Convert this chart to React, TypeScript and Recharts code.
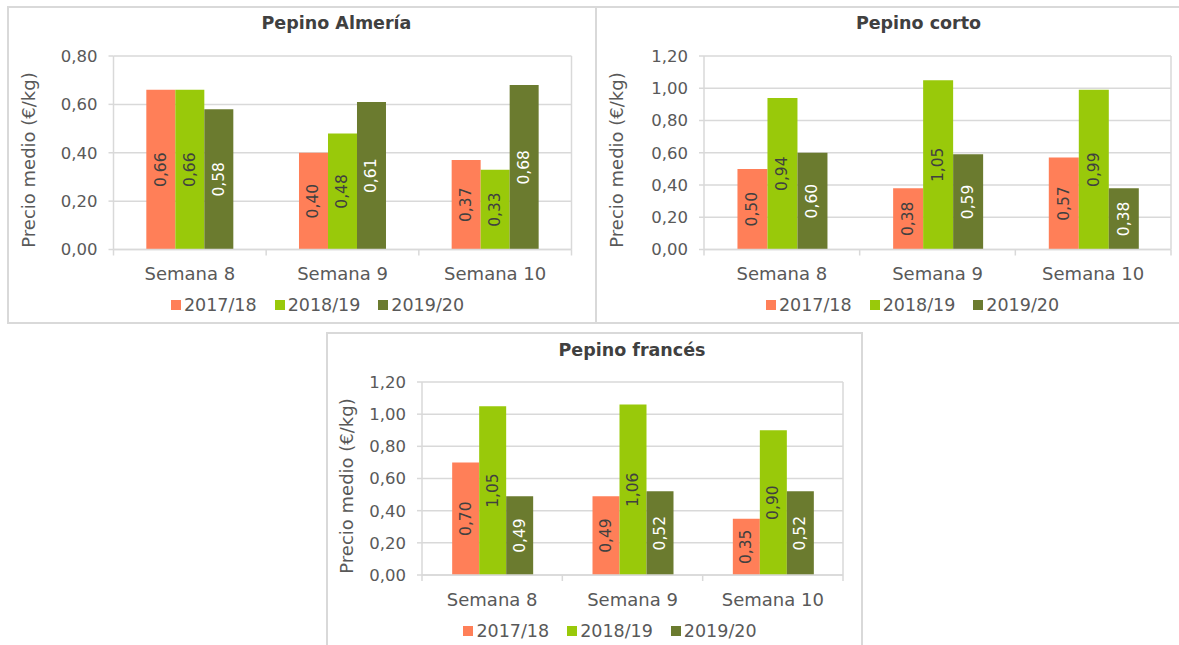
import React from 'react';
import { Bar, BarChart, CartesianGrid, Customized, LabelList, Legend, XAxis, YAxis } from 'recharts';

const categories = ['Semana 8', 'Semana 9', 'Semana 10'];
const seasons = ['2017/18', '2018/19', '2019/20'];
const seasonColors = ['#FF7F58', '#99C90A', '#6B7B2F'];
const labelColors = ['#404040', '#404040', '#FFFFFF'];

const almeria1718 = [0.66, 0.4, 0.37];
const almeria1819 = [0.66, 0.48, 0.33];
const almeria1920 = [0.58, 0.61, 0.68];

const corto1718 = [0.5, 0.38, 0.57];
const corto1819 = [0.94, 1.05, 0.99];
const corto1920 = [0.6, 0.59, 0.38];

const frances1718 = [0.7, 0.49, 0.35];
const frances1819 = [1.05, 1.06, 0.9];
const frances1920 = [0.49, 0.52, 0.52];

const ticksAlmeria = [0, 0.2, 0.4, 0.6, 0.8];
const ticksPrecio = [0, 0.2, 0.4, 0.6, 0.8, 1.0, 1.2];

const yAxisTitle = 'Precio medio (€/kg)';

const GRID = '#D9D9D9';
const TEXT = '#595959';
const FONT = '"DejaVu Sans", sans-serif';

const fmt = (v: number) => v.toFixed(2).replace('.', ',');

function buildRows(a: number[], b: number[], c: number[]) {
  return categories.map((semana, i) => ({ semana, s0: a[i], s1: b[i], s2: c[i] }));
}

type Box = {
  left: number; top: number; width: number; height: number;
  plotLeft: number; plotRight: number; plotTop: number; plotBottom: number;
  titleX: number; titleY: number; axisTitleX: number; axisTitleY: number;
  legendX: number; legendY: number;
};

function CategoryTick(props: any) {
  const { x, y, payload, index, visibleTicksCount, band } = props;
  const half = band / 2;
  return (
    <g>
      <line x1={x - half} y1={y} x2={x - half} y2={y + 6} stroke={GRID} strokeWidth={1.5} />
      {index === visibleTicksCount - 1 && (
        <line x1={x + half} y1={y} x2={x + half} y2={y + 6} stroke={GRID} strokeWidth={1.5} />
      )}
      <text x={x} y={y + 24} textAnchor="middle" dominantBaseline="central" fontSize={18} fill={TEXT} fontFamily={FONT}>
        {payload.value}
      </text>
    </g>
  );
}

function BarValue(color: string) {
  return (p: any) => {
    const cx = Number(p.x) + Number(p.width) / 2;
    const cy = Number(p.y) + Number(p.height) / 2;
    return (
      <text
        x={cx}
        y={cy}
        transform={`rotate(-90, ${cx}, ${cy})`}
        textAnchor="middle"
        dominantBaseline="central"
        fontSize={15.5}
        fill={color}
        fontFamily={FONT}
      >
        {fmt(Number(p.value))}
      </text>
    );
  };
}

function SeasonLegend(props: any) {
  const items = props.payload && props.payload.length ? props.payload : seasons.map((s, i) => ({ value: s, color: seasonColors[i] }));
  return (
    <div style={{ display: 'flex', justifyContent: 'center', alignItems: 'center', height: 24, fontFamily: FONT }}>
      {items.map((item: any, i: number) => (
        <div key={item.value} style={{ display: 'flex', alignItems: 'center', marginLeft: i === 0 ? 0 : 18 }}>
          <span style={{ width: 10, height: 10, background: item.color, marginRight: 3, display: 'inline-block' }} />
          <span style={{ fontSize: 17.5, color: TEXT }}>{item.value}</span>
        </div>
      ))}
    </div>
  );
}

function PriceChart({ title, rows, ticks, box }: { title: string; rows: any[]; ticks: number[]; box: Box }) {
  const b = box;
  const band = (b.plotRight - b.plotLeft) / categories.length;
  const tx = b.titleX - b.left;
  const ty = b.titleY - b.top;
  const ax = b.axisTitleX - b.left;
  const ay = b.axisTitleY - b.top;
  return (
    <div style={{ position: 'absolute', left: b.left, top: b.top, width: b.width, height: b.height }}>
      <BarChart
        width={b.width}
        height={b.height}
        data={rows}
        margin={{ top: b.plotTop - b.top, right: b.left + b.width - b.plotRight, bottom: 0, left: 0 }}
        barCategoryGap="21.5%"
        barGap={0}
      >
        <CartesianGrid
          stroke={GRID}
          strokeWidth={1.5}
          verticalCoordinatesGenerator={(args: any) => [args.offset.left + args.offset.width]}
        />
        <XAxis
          dataKey="semana"
          interval={0}
          tickLine={false}
          tickSize={0}
          tickMargin={0}
          height={b.top + b.height - b.plotBottom}
          axisLine={{ stroke: GRID, strokeWidth: 1.5 }}
          tick={<CategoryTick band={band} />}
        />
        <YAxis
          type="number"
          domain={[0, ticks[ticks.length - 1]]}
          ticks={ticks}
          width={b.plotLeft - b.left}
          tickFormatter={fmt}
          tick={{ fontSize: 16.5, fill: TEXT, fontFamily: FONT }}
          tickLine={{ stroke: GRID, strokeWidth: 1.5 }}
          axisLine={{ stroke: GRID, strokeWidth: 1.5 }}
          tickSize={5}
          tickMargin={11}
        />
        <Legend
          layout="horizontal"
          verticalAlign="middle"
          align="center"
          wrapperStyle={{ left: b.legendX - b.left - 220, top: b.legendY - b.top - 12, width: 440, height: 24 }}
          content={<SeasonLegend />}
        />
        {seasons.map((s, i) => (
          <Bar key={s} dataKey={`s${i}`} name={s} fill={seasonColors[i]} isAnimationActive={false}>
            <LabelList dataKey={`s${i}`} content={BarValue(labelColors[i])} />
          </Bar>
        ))}
        <Customized
          component={() => (
            <g fontFamily={FONT}>
              <text x={tx} y={ty} textAnchor="middle" dominantBaseline="central" fontSize={17.5} fontWeight="bold" fill="#404040">
                {title}
              </text>
              <text
                x={ax}
                y={ay}
                transform={`rotate(-90, ${ax}, ${ay})`}
                textAnchor="middle"
                dominantBaseline="central"
                fontSize={18}
                fill={TEXT}
              >
                {yAxisTitle}
              </text>
            </g>
          )}
        />
      </BarChart>
    </div>
  );
}

const boxAlmeria: Box = {
  left: 7, top: 6, width: 589, height: 318,
  plotLeft: 113.5, plotRight: 571.5, plotTop: 56, plotBottom: 249.5,
  titleX: 336.5, titleY: 23, axisTitleX: 28, axisTitleY: 160, legendX: 317.5, legendY: 305,
};
const boxCorto: Box = {
  left: 595, top: 6, width: 584, height: 318,
  plotLeft: 704, plotRight: 1171, plotTop: 56, plotBottom: 249.5,
  titleX: 918.5, titleY: 23, axisTitleX: 616, axisTitleY: 160, legendX: 912.5, legendY: 305,
};
const boxFrances: Box = {
  left: 326, top: 332, width: 537, height: 313,
  plotLeft: 422, plotRight: 843, plotTop: 382, plotBottom: 575,
  titleX: 632, titleY: 350, axisTitleX: 346, axisTitleY: 486, legendX: 610, legendY: 631,
};

function Frame({ left, top, width, height }: { left: number; top: number; width: number; height: number }) {
  return (
    <div
      style={{
        position: 'absolute', left, top, width, height, boxSizing: 'border-box',
        border: `2px solid ${GRID}`, pointerEvents: 'none',
      }}
    />
  );
}

export default function App() {
  return (
    <div style={{ position: 'absolute', left: 0, top: 0, width: 1179, height: 645, background: '#fff', overflow: 'hidden', fontFamily: FONT }}>
      <PriceChart title="Pepino Almería" rows={buildRows(almeria1718, almeria1819, almeria1920)} ticks={ticksAlmeria} box={boxAlmeria} />
      <PriceChart title="Pepino corto" rows={buildRows(corto1718, corto1819, corto1920)} ticks={ticksPrecio} box={boxCorto} />
      <PriceChart title="Pepino francés" rows={buildRows(frances1718, frances1819, frances1920)} ticks={ticksPrecio} box={boxFrances} />
      <Frame left={7} top={6} width={590} height={318} />
      <Frame left={595} top={6} width={590} height={318} />
      <Frame left={326} top={332} width={537} height={320} />
    </div>
  );
}
